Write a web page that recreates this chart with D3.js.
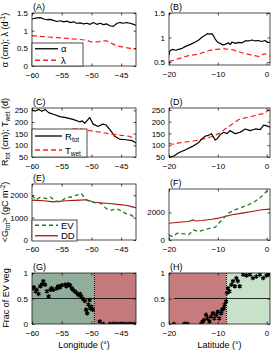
<!DOCTYPE html>
<html>
<head>
<meta charset="utf-8">
<script src="https://cdn.jsdelivr.net/npm/d3@7"></script>
<style>
  body { margin: 0; background: #fff; }
  svg { display: block; font-family: "Liberation Sans", Arial, sans-serif; }
  .tick text { font-size: 8px; fill: #000; }
  .tick line { stroke: #000; stroke-width: 0.7; }
</style>
</head>
<body>
<svg id="fig" width="276" height="352"></svg>
<script>
// ---- data ----
// longitude transect (left column)
const lonAlphaX = [-60, -59.2, -58.6, -58.0, -57.5, -56.9, -56.4, -55.8, -55.2, -54.7, -54.1, -53.6, -53.0, -52.5, -51.9, -51.3, -50.8, -50.2, -49.7, -49.1, -48.5, -48.0, -47.4, -46.9, -46.3, -45.7, -45.2, -44.6, -44.1, -43.5, -42.9, -42.5];
const lonAlphaY = [1.33, 1.36, 1.37, 1.33, 1.31, 1.32, 1.29, 1.26, 1.28, 1.25, 1.27, 1.23, 1.25, 1.21, 1.22, 1.19, 1.21, 1.18, 1.23, 1.18, 1.21, 1.17, 1.19, 1.14, 1.12, 1.21, 1.23, 1.21, 1.23, 1.21, 1.18, 1.15];
const lonLambdaX = [-60, -58, -56.4, -54.1, -51.9, -50.8, -50, -49.1, -48, -47.4, -46.6, -45.7, -44.6, -43.5, -42.5];
const lonLambdaY = [0.86, 0.83, 0.81, 0.78, 0.75, 0.73, 0.68, 0.68, 0.71, 0.71, 0.64, 0.57, 0.53, 0.50, 0.49];

const lonRtotX = [-60, -59.4, -58.9, -58.3, -57.8, -57.2, -56.4, -55.3, -54.3, -53.1, -51.9, -51.6, -51.1, -50.3, -49.7, -48.9, -48.1, -47.5, -46.7, -46.1, -45.3, -44.2, -43.1, -42.5];
const lonRtotY = [251, 247, 254, 246, 254, 240, 233, 223, 219, 211, 200, 205, 195, 219, 191, 181, 191, 187, 161, 139, 127, 124, 120, 110];
const lonTwetX = [-60, -57, -54, -52.5, -51.4, -50.3, -48.6, -46.9, -45.3, -43.6, -42.5];
const lonTwetY = [168, 165, 166, 171, 168, 163, 157, 149, 144, 138, 128];

const lonEvX = [-60, -59.4, -58.6, -57.5, -56.9, -56.1, -55.3, -54.2, -53.3, -52.5, -51.7, -50.8, -50, -49.2, -48.3, -47.5, -46.7, -45.8, -45, -44.2, -43.3, -42.5];
const lonEvY = [2000, 1800, 1900, 1850, 1920, 1750, 1700, 1900, 1920, 2000, 2070, 1780, 1700, 1660, 1630, 1400, 1330, 1400, 1300, 1180, 1110, 960];
const lonDdX = [-60, -58, -56.4, -54.2, -52, -50.8, -49.7, -48.6, -46.9, -45.3, -44.2, -43.1, -42.5];
const lonDdY = [1780, 1750, 1700, 1750, 1780, 1800, 1700, 1660, 1630, 1580, 1550, 1480, 1440];

const lonFracX = [-60, -59.7, -59.4, -59.2, -58.9, -58.6, -58.3, -58.1, -57.8, -57.5, -57.2, -56.9, -56.7, -56.4, -55.8, -55.6, -55.3, -55.0, -54.4, -54.2, -53.9, -53.6, -53.3, -53.1, -52.8, -52.5, -52.2, -51.9, -51.7, -51.4, -51.1, -50.9, -50.7, -50.5, -50.3, -50.2, -50.0, -49.8, -48.6, -48.0, -46.9, -46.4, -46.0, -45.5, -45.1, -44.6, -44.2, -43.7, -43.3, -42.8];
const lonFracY = [0.70, 0.72, 0.64, 0.67, 0.59, 0.74, 0.78, 0.84, 0.77, 0.64, 0.54, 0.67, 0.70, 0.67, 0.70, 0.74, 0.72, 0.76, 0.77, 0.74, 0.78, 0.76, 0.70, 0.67, 0.64, 0.61, 0.57, 0.59, 0.54, 0.49, 0.45, 0.28, 0.21, 0.38, 0.47, 0.31, 0.34, 0.28, 0.05, 0, 0, 0, 0, 0, 0, 0, 0, 0, 0, 0];

// latitude transect (right column)
const latAlphaX = [-20, -19.9, -19.3, -18.6, -18, -17.3, -16.6, -15.6, -14.6, -13.9, -13.2, -12.5, -12.2, -11.7, -11.2, -10.8, -10.5, -10, -9.5, -9, -8.5, -7.8, -7.4, -7.1, -6.4, -5.7, -5.1, -4.4, -3.7, -3, -2.3, -1.7, -1, -0.3, 0.2, 0.7];
const latAlphaY = [0.64, 0.72, 0.76, 0.74, 0.76, 0.78, 0.82, 0.86, 0.91, 0.95, 1.01, 1.05, 1.08, 1.07, 1.08, 1.02, 0.96, 0.90, 0.88, 0.85, 0.86, 0.89, 0.86, 0.91, 0.88, 0.90, 0.89, 0.93, 0.93, 0.95, 0.93, 0.94, 0.92, 0.94, 0.90, 0.90];
const latLambdaX = [-20, -18, -16, -14, -12, -10.5, -8.5, -7, -5, -3, -1.5, -0.5, 0.7];
const latLambdaY = [0.51, 0.57, 0.63, 0.66, 0.73, 0.76, 0.77, 0.75, 0.69, 0.64, 0.61, 0.67, 0.62];

const latRtotX = [-20, -19, -18, -16.6, -15.2, -13.9, -13.2, -12.5, -11.9, -11.3, -10.8, -10.5, -10.1, -9.5, -8.8, -8.1, -7.5, -6.4, -5.4, -4.4, -3.4, -2.3, -1.3, -0.6, 0.1, 0.7];
const latRtotY = [50, 54, 68, 81, 95, 112, 128, 139, 142, 149, 131, 122, 128, 145, 155, 149, 162, 149, 155, 169, 162, 169, 166, 185, 182, 176];
const latTwetX = [-20, -19.3, -17.3, -14.9, -13.2, -11.5, -9.8, -8.5, -7.1, -5.7, -4.4, -3, -1.7, -0.3, 0.3, 0.7];
const latTwetY = [108, 104, 112, 118, 126, 135, 149, 169, 189, 209, 216, 223, 230, 236, 250, 240];

const latDdX = [-20, -18, -16, -15, -14.6, -13.2, -11.2, -9.8, -8.5, -7.1, -5, -3, -1, 0.7];
const latDdY = [1220, 1290, 1340, 1460, 1380, 1420, 1510, 1590, 1710, 1830, 1950, 2070, 2200, 2240];
const latEvX = [-20, -19.3, -18.3, -16.9, -16, -15, -14, -12.5, -10.5, -9.8, -8.8, -7.8, -6.4, -5, -3.7, -2.3, -1, 0, 0.7];
const latEvY = [370, 240, 490, 440, 370, 730, 610, 780, 930, 1220, 1590, 1950, 2200, 2390, 2560, 2810, 3170, 3540, 3370];

const latFracX = [-19, -16.9, -16.6, -16.2, -13.4, -13.1, -12.8, -12.4, -12.1, -11.7, -11.4, -11.0, -10.7, -10.3, -10.0, -9.7, -9.3, -9.1, -8.8, -8.6, -8.3, -8.1, -7.9, -7.6, -7.2, -6.9, -6.5, -6.2, -5.9, -5.5, -4.8, -4.1, -3.4, -2.8, -2.1, -1.4, -0.7, 0, 0.5];
const latFracY = [0, 0, 0, 0, 0, 0.05, 0.08, 0.18, 0.11, 0.05, 0.14, 0.21, 0.11, 0.18, 0.24, 0.11, 0.21, 0.28, 0.31, 0.38, 0.44, 0.61, 0.70, 0.64, 0.77, 0.84, 0.74, 0.90, 0.84, 0.74, 0.97, 0.95, 0.97, 0.90, 0.93, 0.97, 0.90, 0.95, 0.97];

// tick values
const lonTicks = [-60, -55, -50, -45];
const latTicks = [-20, -10, 0];
const lonBoundary = -49.5;
const latBoundary = -8.2;

const zip = (xs, ys) => xs.map((x, i) => ({x: x, y: ys[i]}));

const svg = d3.select("#fig");
const cols = [{x0: 32, x1: 136, dom: [-60, -42.5], ticks: lonTicks},
              {x0: 169, x1: 270, dom: [-20, 0.7], ticks: latTicks}];

function panel(c, y0, y1, ydom, yticks, label, fmt) {
    let g = svg.append("g");
    let x = d3.scaleLinear().domain(c.dom).range([c.x0, c.x1]);
    let y = d3.scaleLinear().domain(ydom).range([y1, y0]);
    let clipId = "clip" + label.replace(/\W/g, "");
    svg.append("clipPath").attr("id", clipId)
        .append("rect").attr("x", c.x0).attr("y", y0).attr("width", c.x1 - c.x0).attr("height", y1 - y0);
    let plot = g.append("g").attr("clip-path", "url(#" + clipId + ")");

    g.append("text").attr("x", c.x0 + 1).attr("y", y0 - 3)
        .attr("font-size", 9).text(label);
    return {g: g, plot: plot, x: x, y: y, c: c, y0: y0, y1: y1, yticks: yticks, fmt: fmt};
}

function frame(p) {
    let {g, x, y, c, y0, y1} = p;
    g.append("rect").attr("x", c.x0).attr("y", y0).attr("width", c.x1 - c.x0).attr("height", y1 - y0)
        .attr("fill", "none").attr("stroke", "#222").attr("stroke-width", 0.8);
    let ax = g.append("g").attr("transform", "translate(0," + y1 + ")")
        .call(d3.axisBottom(x).tickValues(c.ticks).tickSize(-2.5).tickSizeOuter(0).tickPadding(6));
    let axT = g.append("g").attr("transform", "translate(0," + y0 + ")")
        .call(d3.axisTop(x).tickValues(c.ticks).tickSize(-2.5).tickSizeOuter(0).tickFormat(""));
    let ay = g.append("g").attr("transform", "translate(" + c.x0 + ",0)")
        .call(d3.axisLeft(y).tickValues(p.yticks).tickSize(-2.5).tickSizeOuter(0).tickPadding(4).tickFormat(p.fmt || d3.format("")));
    let ayR = g.append("g").attr("transform", "translate(" + c.x1 + ",0)")
        .call(d3.axisRight(y).tickValues(p.yticks).tickSize(-2.5).tickSizeOuter(0).tickFormat(""));
    [ax, axT, ay, ayR].forEach(a => { a.select(".domain").remove(); a.attr("font-family", null).attr("font-size", null); });
}

function line(p, data, color, dash, w) {
    let gen = d3.line().x(d => p.x(d.x)).y(d => p.y(d.y));
    p.plot.append("path").datum(data).attr("d", gen)
        .attr("fill", "none").attr("stroke", color).attr("stroke-width", w || 1.2)
        .attr("stroke-dasharray", dash || null).attr("stroke-linejoin", "round");
}

function legend(p, x0, y0, w, h, items) {
    let lg = p.g.append("g");
    lg.append("rect").attr("x", x0).attr("y", y0).attr("width", w).attr("height", h)
        .attr("fill", "#fff").attr("stroke", "#222").attr("stroke-width", 0.8);
    items.forEach((it, i) => {
        let yy = y0 + h * (i + 0.5) / items.length;
        lg.append("line").attr("x1", x0 + 3).attr("x2", x0 + it.len).attr("y1", yy).attr("y2", yy)
            .attr("stroke", it.color).attr("stroke-width", 1.3).attr("stroke-dasharray", it.dash || null);
        let t = lg.append("text").attr("x", x0 + it.len + 3).attr("y", yy + 3.5).attr("font-size", 9.5);
        t.append("tspan").text(it.main);
        if (it.sub) t.append("tspan").attr("font-size", 6.5).attr("dy", 2).text(it.sub);
    });
}

function ylabel(x, yc, build) {
    let t = svg.append("text").attr("transform", "translate(" + x + "," + yc + ") rotate(-90)")
        .attr("text-anchor", "middle").attr("font-size", 9);
    build(t);
}

const red = "#ff1a1a", evGreen = "#1f7a1f", ddRed = "#a31515";

// (A) / (B)
let pA = panel(cols[0], 13, 66, [0, 1.5], [0, 0.5, 1, 1.5], "(A)");
line(pA, zip(lonAlphaX, lonAlphaY), "#000");
line(pA, zip(lonLambdaX, lonLambdaY), red, "5,3");
frame(pA);
legend(pA, 32, 43, 51, 23, [{main: "α", color: "#000", len: 26}, {main: "λ", color: red, dash: "5,3", len: 26}]);

let pB = panel(cols[1], 13, 65, [0.44, 1.5], [0.5, 1, 1.5], "(B)");
line(pB, zip(latAlphaX, latAlphaY), "#000");
line(pB, zip(latLambdaX, latLambdaY), red, "5,3");
frame(pB);

// (C) / (D)
let pC = panel(cols[0], 108, 157, [50, 260], [50, 100, 150, 200, 250], "(C)");
line(pC, zip(lonRtotX, lonRtotY), "#000");
line(pC, zip(lonTwetX, lonTwetY), red, "5,3");
frame(pC);
legend(pC, 32, 129, 55, 28, [{main: "R", sub: "tot", color: "#000", len: 30}, {main: "T", sub: "wet", color: red, dash: "5,3", len: 30}]);

let pD = panel(cols[1], 108, 157, [50, 258], [50, 100, 150, 200, 250], "(D)");
line(pD, zip(latTwetX, latTwetY), red, "5,3");
line(pD, zip(latRtotX, latRtotY), "#000");
frame(pD);

// (E) / (F)
let pE = panel(cols[0], 184, 240, [0, 2500], [0, 1000, 2000], "(E)");
line(pE, zip(lonDdX, lonDdY), ddRed, null, 1.1);
line(pE, zip(lonEvX, lonEvY), evGreen, "4,3", 1.3);
frame(pE);
legend(pE, 32, 220, 45, 21, [{main: "EV", color: evGreen, dash: "4,3", len: 26}, {main: "DD", color: ddRed, len: 26}]);

let pF = panel(cols[1], 189, 240, [0, 3700], [0, 2000], "(F)");
line(pF, zip(latDdX, latDdY), ddRed, null, 1.1);
line(pF, zip(latEvX, latEvY), evGreen, "4,3", 1.3);
frame(pF);

// (G) / (H)
function fracPanel(c, label, bound, leftColor, rightColor, pts, hx0) {
    let p = panel(c, 273, 324, [0, 1], [0, 0.5, 1], label);
    p.plot.append("rect").attr("x", p.x(c.dom[0])).attr("y", p.y0)
        .attr("width", p.x(bound) - p.x(c.dom[0])).attr("height", p.y1 - p.y0).attr("fill", leftColor);
    p.plot.append("rect").attr("x", p.x(bound)).attr("y", p.y0)
        .attr("width", p.x(c.dom[1]) - p.x(bound)).attr("height", p.y1 - p.y0).attr("fill", rightColor);
    p.plot.append("line").attr("x1", p.x(bound)).attr("x2", p.x(bound)).attr("y1", p.y0).attr("y2", p.y1)
        .attr("stroke", "#000").attr("stroke-width", 1).attr("stroke-dasharray", "1,1");
    p.plot.append("line").attr("x1", p.x(hx0)).attr("x2", p.x(c.dom[1])).attr("y1", p.y(0.5)).attr("y2", p.y(0.5))
        .attr("stroke", "#000").attr("stroke-width", 0.8);
    let sym = d3.symbol().type(d3.symbolAsterisk).size(14);
    p.plot.selectAll("path.pt").data(pts).enter().append("path").attr("class", "pt")
        .attr("d", sym).attr("transform", d => "translate(" + p.x(d.x) + "," + p.y(d.y) + ")")
        .attr("fill", "none").attr("stroke", "#000").attr("stroke-width", 1.3);
    frame(p);
    return p;
}
let pG = fracPanel(cols[0], "(G)", lonBoundary, "#90ae99", "#c47a7a", zip(lonFracX, lonFracY), -60);
let pH = fracPanel(cols[1], "(H)", latBoundary, "#c67c7c", "#c8e2ca", zip(latFracX, latFracY), -19);

// axis titles
ylabel(8, 40, t => { t.text("α (cm); λ (d"); t.append("tspan").attr("font-size", 6.5).attr("dy", -3).text("-1"); t.append("tspan").attr("dy", 3).text(")"); });
ylabel(8, 132, t => {
    t.append("tspan").text("R");
    t.append("tspan").attr("font-size", 6.5).attr("dy", 2).text("tot");
    t.append("tspan").attr("dy", -2).text(" (cm); T");
    t.append("tspan").attr("font-size", 6.5).attr("dy", 2).text("wet");
    t.append("tspan").attr("dy", -2).text(" (d)");
});
ylabel(8, 212, t => {
    t.append("tspan").text("<G");
    t.append("tspan").attr("font-size", 6.5).attr("dy", 2).text("tot");
    t.append("tspan").attr("dy", -2).text("> (gC m");
    t.append("tspan").attr("font-size", 6.5).attr("dy", -3).text("-2");
    t.append("tspan").attr("dy", 3).text(")");
});
ylabel(9, 298, t => t.text("Frac of EV veg"));

svg.append("text").attr("x", (cols[0].x0 + cols[0].x1) / 2).attr("y", 348).attr("text-anchor", "middle")
    .attr("font-size", 9).text("Longitude (°)");
svg.append("text").attr("x", (cols[1].x0 + cols[1].x1) / 2).attr("y", 348).attr("text-anchor", "middle")
    .attr("font-size", 9).text("Latitude (°)");
</script>
</body>
</html>
